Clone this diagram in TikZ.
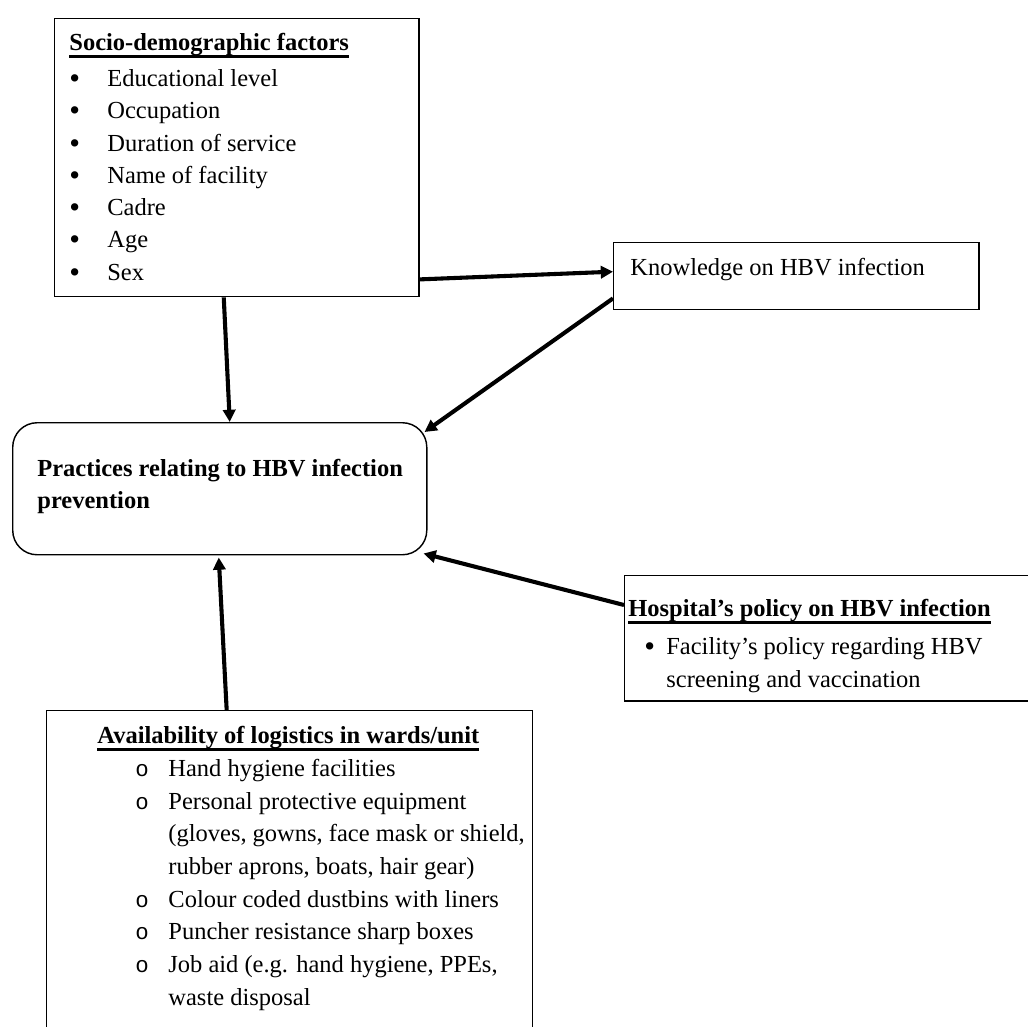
\documentclass[tikz,border=0pt]{standalone}
\usepackage{fontspec}
\setmainfont{Liberation Serif}
\newfontfamily\circfont{Liberation Mono}
\usetikzlibrary{arrows.meta, calc}

\newcommand{\bigdot}{\raisebox{-1pt}{\fontsize{15}{15}\selectfont\textbullet}}
\newcommand{\bitem}[1]{\makebox[18.6pt][l]{\bigdot}#1}
\newcommand{\citem}[1]{\hspace*{18.6pt}\makebox[16.2pt][l]{\fontsize{11}{11}\circfont o}#1}
\newcommand{\thickul}[1]{\setbox0\hbox{#1}\rlap{\rule[-3.4pt]{\wd0}{1.2pt}}\box0}

\begin{document}
\begin{tikzpicture}[x=0.49pt, y=-0.49pt,
  box/.style={draw, line width=0.7pt, anchor=north west, inner sep=0pt},
  txt/.style={anchor=base west, inner sep=0pt, align=left, font=\fontsize{12}{15.8}\selectfont},
  arr/.style={line width=2pt, -{Triangle[length=6pt, width=6pt]}}]
  \clip (0,0) rectangle (1028,1026);

  % Socio-demographic factors (anchored at the baseline of the last line)
  \node[box, minimum width=178.4pt, minimum height=136.2pt] (socio) at (54,18) {};
  \node[txt] (sociotxt) at (69,280) {\thickul{\textbf{Socio-demographic factors}}\\[1.8pt]
    \bitem{Educational level}\\
    \bitem{Occupation}\\
    \bitem{Duration of service}\\
    \bitem{Name of facility}\\
    \bitem{Cadre}\\
    \bitem{Age}\\
    \bitem{Sex}};

  % Knowledge
  \node[box, minimum width=178.9pt, minimum height=32.8pt] (know) at (613,242) {};
  \node[txt] (knowtxt) at (630,275) {Knowledge on HBV infection};

  % Practices
  \node[box, rounded corners=12pt, minimum width=202.9pt, minimum height=64.7pt] (prac) at (12,422) {};
  \node[txt, font=\fontsize{12}{15.5}\selectfont\bfseries] (practxt) at (37,508) {Practices relating to HBV infection\\prevention};

  % Hospital policy
  \node[box, minimum width=203.8pt, minimum height=61.3pt] (hosp) at (624,575) {};
  \node[txt] (hosptxt) at (628,687) {\thickul{\textbf{Hospital's policy on HBV infection}}\\[2.8pt]
    \hspace*{7.8pt}\makebox[10.8pt][l]{\bigdot}Facility's policy regarding HBV\\
    \hspace*{18.6pt}screening and vaccination};

  % Logistics
  \node[box, minimum width=238.1pt, minimum height=161.7pt] (logi) at (46,710) {};
  \node[txt, font=\fontsize{12}{16}\selectfont] (logitxt) at (97,1005) {\thickul{\textbf{Availability of logistics in wards/unit}}\\
    \citem{Hand hygiene facilities}\\
    \citem{Personal protective equipment}\\
    \hspace*{34.8pt}(gloves, gowns, face mask or shield,\\
    \hspace*{34.8pt}rubber aprons, boats, hair gear)\\
    \citem{Colour coded dustbins with liners}\\
    \citem{Puncher resistance sharp boxes}\\
    \citem{Job aid (e.g. hand hygiene, PPEs,}\\
    \hspace*{34.8pt}waste disposal};

  % Arrows
  \draw[arr] ($(socio.south east)+(0,-18)$) -- ($(know.west)+(0,-4.5)$);
  \draw[arr] ($(socio.south)+(-13,0)$) -- ($(prac.north)+(10,0)$);
  \draw[arr] ($(know.south west)+(0,-12)$) -- ($(prac.north east)+(-3,10)$);
  \draw[arr] ($(hosp.north west)+(0,30)$) -- ($(prac.south east)+(-4,-2)$);
  \draw[arr] ($(logi.north)+(-63,0)$) -- ($(prac.south)+(-1,2)$);
\end{tikzpicture}
\end{document}
